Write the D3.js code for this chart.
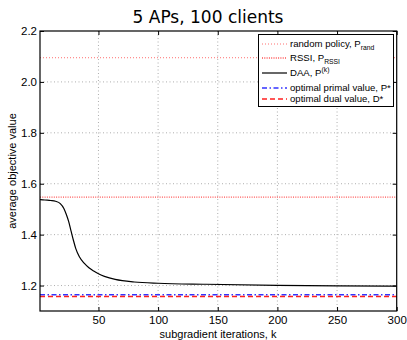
<!DOCTYPE html>
<html><head><meta charset="utf-8">
<script src="https://cdn.jsdelivr.net/npm/d3@7"></script>
<style>body{margin:0;background:#fff}svg{display:block}</style>
</head><body><svg id="c" width="407" height="340"></svg>
<script>
const titleText = "5 APs, 100 clients";
const xLabel = "subgradient iterations, k";
const yLabel = "average objective value";
const xTicks = [50, 100, 150, 200, 250, 300];
const yTicks = [1.2, 1.4, 1.6, 1.8, 2.0, 2.2];
const daaK = [1, 5, 10, 14, 18, 21, 23, 25, 27, 29, 31, 34, 38, 42, 46, 50, 55, 64, 70, 80, 100, 140, 200, 250, 300];
const daaP = [1.538, 1.536, 1.534, 1.531, 1.522, 1.503, 1.48, 1.452, 1.415, 1.378, 1.345, 1.313, 1.288, 1.270, 1.257, 1.246, 1.236, 1.224, 1.219, 1.214, 1.209, 1.205, 1.201, 1.199, 1.198];
const pRand = 2.095;
const pRSSI = 1.547;
const pStar = 1.164;
const dStar = 1.157;
const legendLabels = [
  {main: "random policy, P", sub: "rand"},
  {main: "RSSI, P", sub: "RSSI"},
  {main: "DAA, P", sup: "(k)"},
  {main: "optimal primal value, P*"},
  {main: "optimal dual value, D*"}
];

const svg = d3.select("#c");
const L = 40, R = 396.7, T = 31, B = 311;
const x = d3.scaleLinear().domain([1, 300]).range([L, R]);
const y = d3.scaleLinear().domain([1.1, 2.2]).range([B, T]);
const font = "'Liberation Sans', Arial, sans-serif";

// grid
const g = svg.append("g");
g.selectAll(".gx").data(xTicks.filter(d => d < 300)).join("line")
  .attr("x1", d => x(d)).attr("x2", d => x(d)).attr("y1", T).attr("y2", B)
  .attr("stroke", "#999").attr("stroke-width", 0.8).attr("stroke-dasharray", "1,2.5");
g.selectAll(".gy").data(yTicks.filter(d => d < 2.2)).join("line")
  .attr("x1", L).attr("x2", R).attr("y1", d => y(d)).attr("y2", d => y(d))
  .attr("stroke", "#999").attr("stroke-width", 0.8).attr("stroke-dasharray", "1,2.5");

// horizontal reference lines
const hl = (v, color, dash, w) => svg.append("line")
  .attr("x1", L).attr("x2", R).attr("y1", y(v)).attr("y2", y(v))
  .attr("stroke", color).attr("stroke-width", w).attr("stroke-dasharray", dash);
hl(pRand, "#ff7070", "1,2", 1);
hl(pRSSI, "#ff5050", "1,1.3", 1.3);
hl(pStar, "#3333ff", "5,2.5,1.5,2.5", 1.5);
hl(dStar, "#ff2020", "5,3", 1.5);

// DAA curve
const line = d3.line().x((d, i) => x(daaK[i])).y(d => y(d)).curve(d3.curveMonotoneX);
svg.append("path").attr("d", line(daaP)).attr("fill", "none")
  .attr("stroke", "#000").attr("stroke-width", 1.2);

// axes
const ax = svg.append("g").attr("transform", `translate(0,${B})`)
  .call(d3.axisBottom(x).tickValues(xTicks).tickSize(-4).tickPadding(5).tickFormat(d3.format("d")));
const axT = svg.append("g").attr("transform", `translate(0,${T})`)
  .call(d3.axisTop(x).tickValues(xTicks).tickSize(-4).tickFormat(""));
const ay = svg.append("g").attr("transform", `translate(${L},0)`)
  .call(d3.axisLeft(y).tickValues(yTicks).tickSize(-4).tickPadding(3).tickFormat(d3.format(".1f")));
const ayR = svg.append("g").attr("transform", `translate(${R},0)`)
  .call(d3.axisRight(y).tickValues(yTicks).tickSize(-4).tickFormat(""));
[ax, axT, ay, ayR].forEach(a => {
  a.select(".domain").remove();
  a.selectAll("text").attr("font-family", font).attr("font-size", 11.5).attr("fill", "#000");
});
svg.append("rect").attr("x", L).attr("y", T).attr("width", R - L).attr("height", B - T)
  .attr("fill", "none").attr("stroke", "#000").attr("stroke-width", 1.2);

// labels
svg.append("text").attr("x", 208).attr("y", 23).attr("text-anchor", "middle")
  .attr("font-family", "'DejaVu Sans', sans-serif").attr("font-size", 17).text(titleText);
svg.append("text").attr("x", 218).attr("y", 338).attr("text-anchor", "middle")
  .attr("font-family", font).attr("font-size", 11).text(xLabel);
svg.append("text").attr("transform", `translate(16,171) rotate(-90)`).attr("text-anchor", "middle")
  .attr("font-family", font).attr("font-size", 11).text(yLabel);

// legend
const lg = svg.append("g");
lg.append("rect").attr("x", 258.5).attr("y", 34.5).attr("width", 135).attr("height", 72)
  .attr("fill", "#fff").attr("stroke", "#000").attr("stroke-width", 1);
const rowsY = [44, 58, 73, 88, 99];
const styles = [
  {c: "#ff7070", d: "1,2", w: 1},
  {c: "#ff5050", d: "1,1.3", w: 1.3},
  {c: "#000", d: null, w: 1.2},
  {c: "#3333ff", d: "5,2.5,1.5,2.5", w: 1.5},
  {c: "#ff2020", d: "5,3", w: 1.5}
];
legendLabels.forEach((lab, i) => {
  const yy = rowsY[i];
  lg.append("line").attr("x1", 262).attr("x2", 287).attr("y1", yy).attr("y2", yy)
    .attr("stroke", styles[i].c).attr("stroke-width", styles[i].w)
    .attr("stroke-dasharray", styles[i].d);
  const t = lg.append("text").attr("x", 290).attr("y", yy + 3.4)
    .attr("font-family", font).attr("font-size", 9.6).text(lab.main);
  if (lab.sub) t.append("tspan").attr("font-size", 6.8).attr("dy", 2.5).text(lab.sub);
  if (lab.sup) t.append("tspan").attr("font-size", 6.8).attr("dy", -4.2).text(lab.sup);
});
</script></body></html>
